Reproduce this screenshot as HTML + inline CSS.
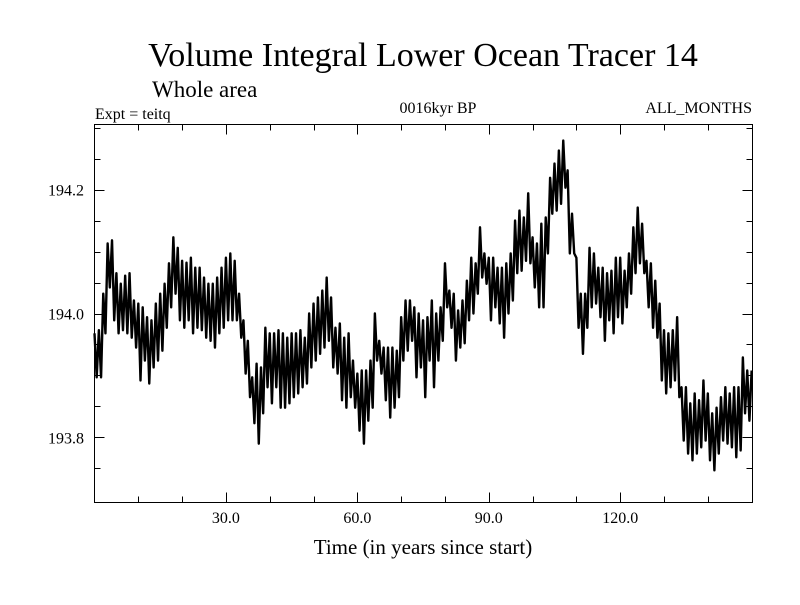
<!DOCTYPE html>
<html><head><meta charset="utf-8"><style>
body{margin:0;background:#fff}
svg text{font-family:"Liberation Serif",serif;fill:#000}
</style></head><body>
<svg id="c" width="800" height="600">
<rect width="800" height="600" fill="#fff"/>
<text x="423" y="66" font-size="34" text-anchor="middle">Volume Integral Lower Ocean Tracer 14</text>
<text x="152" y="97" font-size="23">Whole area</text>
<text x="95" y="119" font-size="16">Expt = teitq</text>
<text x="438" y="113" font-size="16" text-anchor="middle">0016kyr BP</text>
<text x="752" y="113" font-size="16" text-anchor="end">ALL_MONTHS</text>
<text x="423" y="554" font-size="21" text-anchor="middle">Time (in years since start)</text>
<g id="axes"></g>
<path id="line" fill="none" stroke="#000" stroke-width="2.4" stroke-linejoin="round"/>
<rect x="94.5" y="124.5" width="658" height="378" fill="none" stroke="#000" stroke-width="1"/>
</svg>
<script>
const xTicks=[30,60,90,120];
const xTickLabels=["30.0","60.0","90.0","120.0"];
const yTicks=[193.8,194.0,194.2];
const yTickLabels=["193.8","194.0","194.2"];
const highs=[193.968,193.973,194.032,194.113,194.118,194.065,194.048,194.061,194.065,194.021,194.016,194.010,193.994,193.989,194.016,194.032,194.048,194.081,194.123,194.106,194.085,194.082,194.090,194.074,194.074,194.058,194.048,194.048,194.058,194.074,194.090,194.097,194.085,194.032,193.989,193.956,193.897,193.919,193.913,193.977,193.968,193.968,193.973,193.968,193.961,193.968,193.968,193.973,193.961,194.000,194.016,194.026,194.037,194.058,194.026,193.977,193.984,193.961,193.968,193.924,193.903,193.908,193.908,193.924,194.000,193.956,193.945,193.945,193.945,193.940,193.994,194.021,194.021,194.010,194.000,193.989,193.994,194.021,194.000,194.010,194.081,194.037,194.032,194.005,194.021,194.053,194.090,194.081,194.139,194.097,194.090,194.090,194.074,194.074,194.081,194.097,194.150,194.166,194.155,194.194,194.123,194.113,194.145,194.155,194.219,194.242,194.263,194.279,194.231,194.161,194.090,194.032,194.032,194.106,194.097,194.074,194.074,194.065,194.069,194.090,194.090,194.069,194.097,194.139,194.171,194.145,194.085,194.081,194.053,194.016,193.973,193.968,193.973,193.994,193.881,193.881,193.855,193.871,193.860,193.892,193.871,193.839,193.848,193.865,193.881,193.871,193.881,193.881,193.929,193.908,193.908];
const lows=[193.897,193.897,193.968,194.042,193.989,193.968,193.973,193.968,193.961,193.945,193.892,193.924,193.887,193.913,193.924,193.940,193.977,194.010,194.032,193.989,193.977,193.989,193.968,193.977,193.973,193.961,193.956,193.945,193.968,193.977,193.989,193.989,193.989,193.961,193.903,193.865,193.823,193.790,193.839,193.881,193.855,193.881,193.848,193.848,193.855,193.865,193.871,193.881,193.887,193.913,193.924,193.935,193.945,193.956,193.913,193.903,193.860,193.848,193.865,193.848,193.811,193.790,193.827,193.848,193.924,193.903,193.860,193.832,193.848,193.865,193.924,193.940,193.956,193.897,193.913,193.865,193.924,193.881,193.924,193.956,194.010,193.977,193.924,193.945,193.952,193.989,194.000,194.032,194.058,194.048,193.989,194.010,193.984,193.961,194.000,194.021,194.065,194.069,194.085,194.081,194.042,194.010,194.010,194.097,194.161,194.166,194.177,194.203,194.097,194.097,193.977,193.935,193.977,194.010,194.016,193.994,193.956,193.989,193.968,193.994,193.984,194.010,194.032,194.065,194.081,194.065,194.010,193.977,193.961,193.892,193.871,193.881,193.892,193.865,193.795,193.774,193.763,193.774,193.784,193.795,193.763,193.747,193.774,193.795,193.790,193.784,193.768,193.779,193.839,193.827,193.806];
const X0=94.5,X1=752.5,Y0=124.5,Y1=502.5;
const xMin=0,xMax=150.2,yMin=193.695,yMax=194.305;
const sx=v=>X0+(v-xMin)/(xMax-xMin)*(X1-X0);
const sy=v=>Y1-(v-yMin)/(yMax-yMin)*(Y1-Y0);
const NS='http://www.w3.org/2000/svg';
const ax=document.getElementById('axes');
function ln(x1,y1,x2,y2,name){const l=document.createElementNS(NS,'line');
l.setAttribute('x1',x1);l.setAttribute('y1',y1);l.setAttribute('x2',x2);l.setAttribute('y2',y2);
l.setAttribute('stroke','#000');l.setAttribute('stroke-width','1');


ax.appendChild(l);}
function tx(x,y,s,anchor,name){const t=document.createElementNS(NS,'text');
t.setAttribute('x',x);t.setAttribute('y',y);t.setAttribute('font-size','16');t.setAttribute('text-anchor',anchor);t.textContent=s;


ax.appendChild(t);}
for(let v=10;v<150;v+=10){const x=Math.round(sx(v))+0.5;const L=(v%30===0)?10:6;
ln(x,Y1,x,Y1-L,'x-tick');ln(x,Y0,x,Y0+L,'x-tick-top');}
xTicks.forEach((v,i)=>tx(sx(v),523,xTickLabels[i],'middle','x-tick-label'));
for(let k=0;k<12;k++){const v=193.75+k*0.05;const y=Math.round(sy(v))+0.5;if(y<=Y0+1||y>=Y1-1)continue;
const major=Math.abs(((v-193.8)/0.2)-Math.round((v-193.8)/0.2))<1e-6;const L=major?10:6;
ln(X0,y,X0+L,y,'y-tick');ln(X1,y,X1-L,y,'y-tick-right');}
yTicks.forEach((v,i)=>tx(84,sy(v)+6,yTickLabels[i],'end','y-tick-label'));
let d='';
highs.forEach((h,i)=>{d+=(i?'L':'M')+sx(i).toFixed(2)+','+sy(h).toFixed(2);
if(i<lows.length&&i+0.5<=xMax)d+='L'+sx(i+0.5).toFixed(2)+','+sy(lows[i]).toFixed(2);});
document.getElementById('line').setAttribute('d',d);
</script>
</body></html>
